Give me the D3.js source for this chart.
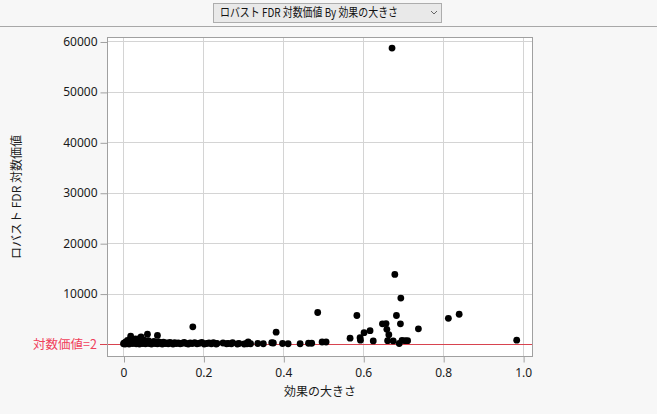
<!DOCTYPE html>
<html><head><meta charset="utf-8">
<script src="https://cdn.jsdelivr.net/npm/d3@7"></script>
<style>
body{margin:0;background:#f7f7f7;}
svg{display:block;}
text{font-family:"Noto Sans CJK JP","Noto Sans",sans-serif;}
</style></head>
<body>
<svg id="c" width="657" height="414"></svg>
<script>
// Data
const effectSize = [
  0.672,0.679,0.694,0.486,0.584,0.683,0.813,0.840,0.648,0.657,0.693,0.659,0.664,0.738,0.617,0.602,
  0.592,0.593,0.567,0.625,0.661,0.675,0.690,0.697,0.711,0.705,0.984,0.497,0.507,0.442,0.463,0.471,
  0.382,0.1735,0.018,0.044,0.060,0.085,0.042,0.412,0.398,0.375,0.371,0.350,0.336,0.318,0.308,
  0.000,0.002,0.004,0.006,0.008,0.010,0.012,0.014,0.016,0.019,0.021,0.023,0.025,0.027,0.030,0.032,
  0.034,0.036,0.038,0.040,0.043,0.046,0.048,0.050,0.052,0.055,0.057,0.060,0.062,0.065,0.068,0.070,
  0.073,0.076,0.079,0.082,0.085,0.088,0.091,0.094,0.097,0.100,0.104,0.108,0.112,0.116,0.120,0.124,
  0.128,0.132,0.137,0.142,0.147,0.152,0.157,0.162,0.167,0.172,0.178,0.184,0.190,0.196,0.202,0.208,
  0.214,0.220,0.225,0.232,0.234,0.249,0.258,0.262,0.270,0.273,0.285,0.289,0.302,0.309,0.312
];
const fdrLogWorth = [
  58700,13800,9100,6250,5650,5650,5100,5900,4000,4050,4000,2900,1850,3000,2650,2250,
  1250,750,1150,600,650,600,100,700,650,650,750,400,400,50,150,150,
  2350,3400,1550,1420,1950,1700,1230,50,100,200,250,50,100,50,100,
  50,200,0,400,100,700,300,0,150,900,450,100,600,250,1000,50,
  350,700,150,0,500,250,100,800,300,50,450,200,650,100,350,0,
  250,500,100,300,50,400,150,250,0,350,100,200,50,300,150,0,
  250,100,200,50,150,300,100,0,200,100,250,50,150,300,0,100,
  200,50,250,0,100,200,50,100,50,250,0,100,0,50,400
];
const xTicks = [0,0.2,0.4,0.6,0.8,1.0];
const xTickLabels = ["0","0.2","0.4","0.6","0.8","1.0"];
const yTicks = [10000,20000,30000,40000,50000,60000];
const refValue = 2;
const refLabel = "対数価値=2";
const title = "ロバスト FDR 対数価値 By 効果の大きさ";
const xTitle = "効果の大きさ";
const yTitle = "ロバスト FDR 対数価値";

const svg = d3.select("#c");
const L=107.5, T=37.5, R=532.5, B=356.5;
const x = d3.scaleLinear().domain([-0.04,1.0235]).range([L,R]);
const y = d3.scaleLinear().domain([-2480,60790]).range([B,T]);

// header
svg.append("rect").attr("x",213.5).attr("y",3.5).attr("width",228).attr("height",19)
  .attr("fill","#e9e9e9").attr("stroke","#adadad");
svg.append("text").attr("x",220).attr("y",17).attr("font-size",12).attr("fill","#111")
  .attr("textLength",178).attr("lengthAdjust","spacingAndGlyphs").text(title);
svg.append("path").attr("d","M431,11 L434,14 L437,11").attr("fill","none").attr("stroke","#666").attr("stroke-width",1);
svg.append("line").attr("x1",0).attr("x2",657).attr("y1",26.5).attr("y2",26.5).attr("stroke","#a8a8a8");

// plot bg
svg.append("rect").attr("x",L).attr("y",T).attr("width",R-L).attr("height",B-T).attr("fill","#fff");

// grid
const g = svg.append("g");
g.selectAll(".gx").data(xTicks).join("line")
  .attr("x1",d=>Math.round(x(d))+0.5).attr("x2",d=>Math.round(x(d))+0.5).attr("y1",T).attr("y2",B)
  .attr("stroke","#d4d4d4");
g.selectAll(".gy").data(yTicks).join("line")
  .attr("y1",d=>Math.round(y(d))+0.5).attr("y2",d=>Math.round(y(d))+0.5).attr("x1",L).attr("x2",R)
  .attr("stroke","#d4d4d4");

// ref line
const yr = Math.round(y(refValue))+0.5;
svg.append("line").attr("x1",L).attr("x2",R).attr("y1",yr).attr("y2",yr).attr("stroke","#d8434f");
svg.append("line").attr("x1",100).attr("x2",L).attr("y1",yr).attr("y2",yr).attr("stroke","#d8434f");
svg.append("text").attr("x",97).attr("y",yr).attr("dy","0.36em").attr("text-anchor","end")
  .attr("font-size",12.5).attr("fill","#f0405a").text(refLabel);

// points
svg.append("g").selectAll("circle").data(effectSize.map((d,i)=>[d,fdrLogWorth[i]])).join("circle")
  .attr("cx",d=>x(d[0])).attr("cy",d=>y(d[1])).attr("r",3.4).attr("fill","#000");

// frame
svg.append("rect").attr("x",L).attr("y",T).attr("width",R-L).attr("height",B-T)
  .attr("fill","none").attr("stroke","#a0a0a0");

// y axis
const ya = svg.append("g").attr("transform",`translate(${L},0)`)
  .call(d3.axisLeft(y).tickValues(yTicks).tickSize(7).tickPadding(3).tickFormat(d3.format("d")));
ya.select(".domain").remove();
ya.selectAll("line").attr("stroke","#a0a0a0").attr("transform","translate(0,0.5)");
ya.selectAll("text").attr("font-size",12).attr("fill","#1a1a1a")
  .style("font-family","'Noto Sans',sans-serif");

// x axis
const xa = svg.append("g").attr("transform",`translate(0,${B})`)
  .call(d3.axisBottom(x).tickValues(xTicks).tickSize(6).tickPadding(6).tickFormat((d,i)=>xTickLabels[i]));
xa.select(".domain").remove();
xa.selectAll("line").attr("stroke","#a0a0a0").attr("transform","translate(0.5,0)");
xa.selectAll("text").attr("font-size",12).attr("fill","#1a1a1a")
  .style("font-family","'Noto Sans',sans-serif");

// titles
svg.append("text").attr("x",(L+R)/2).attr("y",396).attr("text-anchor","middle")
  .attr("font-size",12).attr("fill","#1a1a1a").text(xTitle);
svg.append("text").attr("transform",`translate(21,${(T+B)/2}) rotate(-90)`).attr("text-anchor","middle")
  .attr("font-size",12).attr("fill","#1a1a1a").text(yTitle);
</script>
</body></html>
